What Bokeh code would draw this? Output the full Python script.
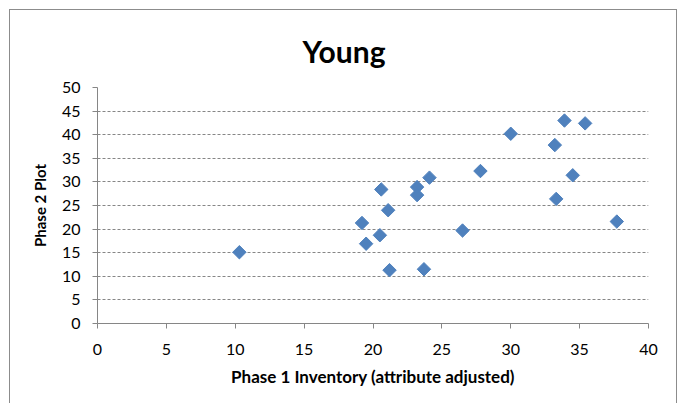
import numpy as np
from bokeh.plotting import figure
from bokeh.models import Range1d, FixedTicker, ColumnDataSource
from bokeh.embed import file_html
from bokeh.resources import INLINE

# data
title_text = "Young"
inventory = [10.3, 19.2, 19.5, 20.6, 20.5, 21.1, 21.2, 23.2, 23.2, 24.1,
             23.7, 26.5, 27.8, 30.0, 33.2, 33.9, 35.4, 33.3, 34.5, 37.7]
plot_vals = [15.1, 21.3, 16.9, 28.4, 18.7, 24.0, 11.3, 28.9, 27.2, 30.9,
             11.5, 19.7, 32.3, 40.2, 37.8, 43.0, 42.4, 26.4, 31.4, 21.6]
x_ticks = [0, 5, 10, 15, 20, 25, 30, 35, 40]
y_ticks = [0, 5, 10, 15, 20, 25, 30, 35, 40, 45, 50]

FONT = "Lato"
GREY = "#868686"

p = figure(width=668, height=394, output_backend="svg", toolbar_location=None,
           x_range=Range1d(0, 40), y_range=Range1d(0, 50),
           min_border_left=87, min_border_right=30, min_border_top=77,
           min_border_bottom=81, title=title_text)
p.styles = {"border-left": "1px solid #8c8c8c", "border-top": "1px solid #8c8c8c",
            "border-right": "1px solid #8c8c8c",
            "margin-left": "9px", "margin-top": "9px"}
p.outline_line_color = None

p.title.align = "left"
p.title.text_font = FONT
p.title.text_font_size = "30px"
p.title.text_font_style = "bold"
p.title.text_color = "black"
p.title.standoff = 37
p.title.offset = 205

src = ColumnDataSource(dict(x=inventory, y=plot_vals))
p.scatter("x", "y", source=src, marker="square", angle=np.pi / 4, size=9.5,
          fill_color="#4F81BD", line_color="#4F81BD")

for ax in (p.xaxis, p.yaxis):
    ax.axis_line_color = GREY
    ax.major_tick_line_color = GREY
    ax.major_tick_in = 0
    ax.major_tick_out = 5
    ax.minor_tick_line_color = None
    ax.major_label_text_font = FONT
    ax.major_label_text_font_size = "16px"
    ax.major_label_text_color = "black"
    ax.axis_label_text_font = FONT
    ax.axis_label_text_font_style = "bold"
    ax.axis_label_text_color = "black"

p.xaxis.axis_label_text_font_size = "17px"
p.yaxis.axis_label_text_font_size = "15px"
p.xaxis.ticker = FixedTicker(ticks=x_ticks)
p.yaxis.ticker = FixedTicker(ticks=y_ticks)
p.xaxis.axis_label = "Phase 1 Inventory (attribute adjusted)"
p.yaxis.axis_label = "Phase 2 Plot"
p.xaxis.major_label_standoff = 15
p.xaxis.axis_label_standoff = 8
p.yaxis.major_label_standoff = 12
p.yaxis.axis_label_standoff = 10

p.xgrid.grid_line_color = None
p.ygrid.grid_line_color = GREY
p.ygrid.grid_line_dash = "3 2"
p.ygrid.grid_line_width = 1

open("out.html", "w").write(file_html(p, INLINE))
